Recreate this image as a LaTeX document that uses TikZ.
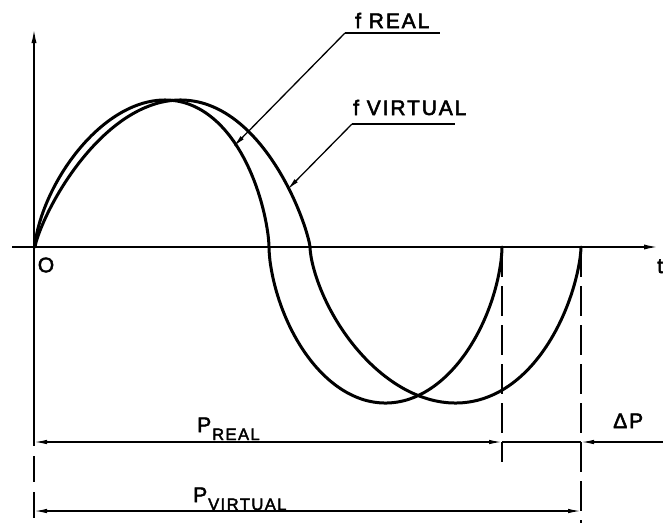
\documentclass[tikz,border=0pt]{standalone}
\usepackage{fontspec}
\setmainfont{Liberation Sans}
\newfontfamily\lbl[LetterSpace=9,FakeBold=2.5]{Liberation Sans}
\usetikzlibrary{arrows.meta}
\begin{document}
\begin{tikzpicture}[x=1pt,y=-1pt,
  curve/.style={line width=3pt, line join=round, line cap=round},
  axis/.style={line width=2pt},
  dim/.style={line width=1.4pt},
  lead/.style={line width=1.3pt},
  dashv/.style={line width=1.4pt, dash pattern=on 30pt off 9pt},
  tipa/.style={-{Latex[length=13pt,width=4.5pt]}},
  tipb/.style={{Latex[length=13pt,width=4.5pt]}-{Latex[length=13pt,width=4.5pt]}},
  lab/.style={inner sep=0pt, anchor=base west, font=\lbl\fontsize{21}{21}\selectfont},
  sub/.style={inner sep=0pt, anchor=base west, font=\lbl\fontsize{16.5}{16.5}\selectfont}]
\useasboundingbox (0,0) rectangle (663,523);
% axes
\coordinate (yb) at (34,523); \coordinate (ys) at (34,420); \coordinate (yt) at (34,27);
\draw[axis, dash pattern=on 26pt off 10pt] (ys) -- (yb);
\draw[axis,-{Latex[length=16pt,width=5pt]}] (ys) -- (yt);
\coordinate (xl) at (12,247); \coordinate (xr) at (660,247);
\draw[axis,-{Latex[length=16pt,width=5pt]}] (xl) -- (xr);
\node[lab, anchor=center] (o) at (46,265) {O};
\node[lab] (t) at (657,273) {t};
% dashed verticals
\coordinate (r0) at (502,247); \coordinate (r1) at (502,462);
\coordinate (v0) at (581,247); \coordinate (v1) at (581,523);
\draw[dashv] (r0) -- (r1);
\draw[dashv] (v0) -- (v1);
% real curve
\draw[curve] plot[domain=0:180, samples=121, variable=\t]
   ({152-117*cos(\t)+13*sin(\t)^2}, {247-147*pow(abs(sin(\t))+0.0001,1.3)})
   -- plot[domain=0:180, samples=121, variable=\t]
   ({385.5-116.5*cos(\t)}, {247+156*pow(abs(sin(\t))+0.0001,1.2)});
% virtual curve
\draw[curve] plot[domain=0:180, samples=121, variable=\t]
   ({172.5-137.5*cos(\t)+8*sin(\t)^2}, {247-147*pow(abs(sin(\t))+0.0001,1.6)})
   -- plot[domain=0:180, samples=121, variable=\t]
   ({445.5-135.5*cos(\t)+10*sin(\t)^2}, {247+156*pow(abs(sin(\t))+0.0001,1.3)});
% labels with leaders
\node[lab] (fr) at (355,28) {f REAL};
\coordinate (frA) at (345,33); \coordinate (frB) at (440,33); \coordinate (frT) at (233,147);
\draw[lead] (frA) -- (frB);
\draw[lead, tipa] (frA) -- (frT);
\node[lab] (fv) at (353,115) {f VIRTUAL};
\coordinate (fvA) at (352,124); \coordinate (fvB) at (455,124); \coordinate (fvT) at (287,190);
\draw[lead] (fvA) -- (fvB);
\draw[lead, tipa] (fvA) -- (fvT);
% dimension lines
\coordinate (dl) at (34,442); \coordinate (dr) at (502,442); \coordinate (dv) at (581,442); \coordinate (de) at (663,442);
\draw[dim, tipb] (dl) -- (dr);
\draw[dim] (dr) -- (dv);
\draw[dim, tipa] (de) -- (dv);
\coordinate (pl) at (34,511); \coordinate (pr) at (581,511);
\draw[dim, tipb] (pl) -- (pr);
\node[lab] (pR) at (197,432) {P};
\node[sub] (pRs) at (212,440) {REAL};
\node[lab] (pV) at (193,502) {P};
\node[sub] (pVs) at (208,510) {VIRTUAL};
\node[lab] (dP) at (613,428) {ΔP};
\end{tikzpicture}
\end{document}
